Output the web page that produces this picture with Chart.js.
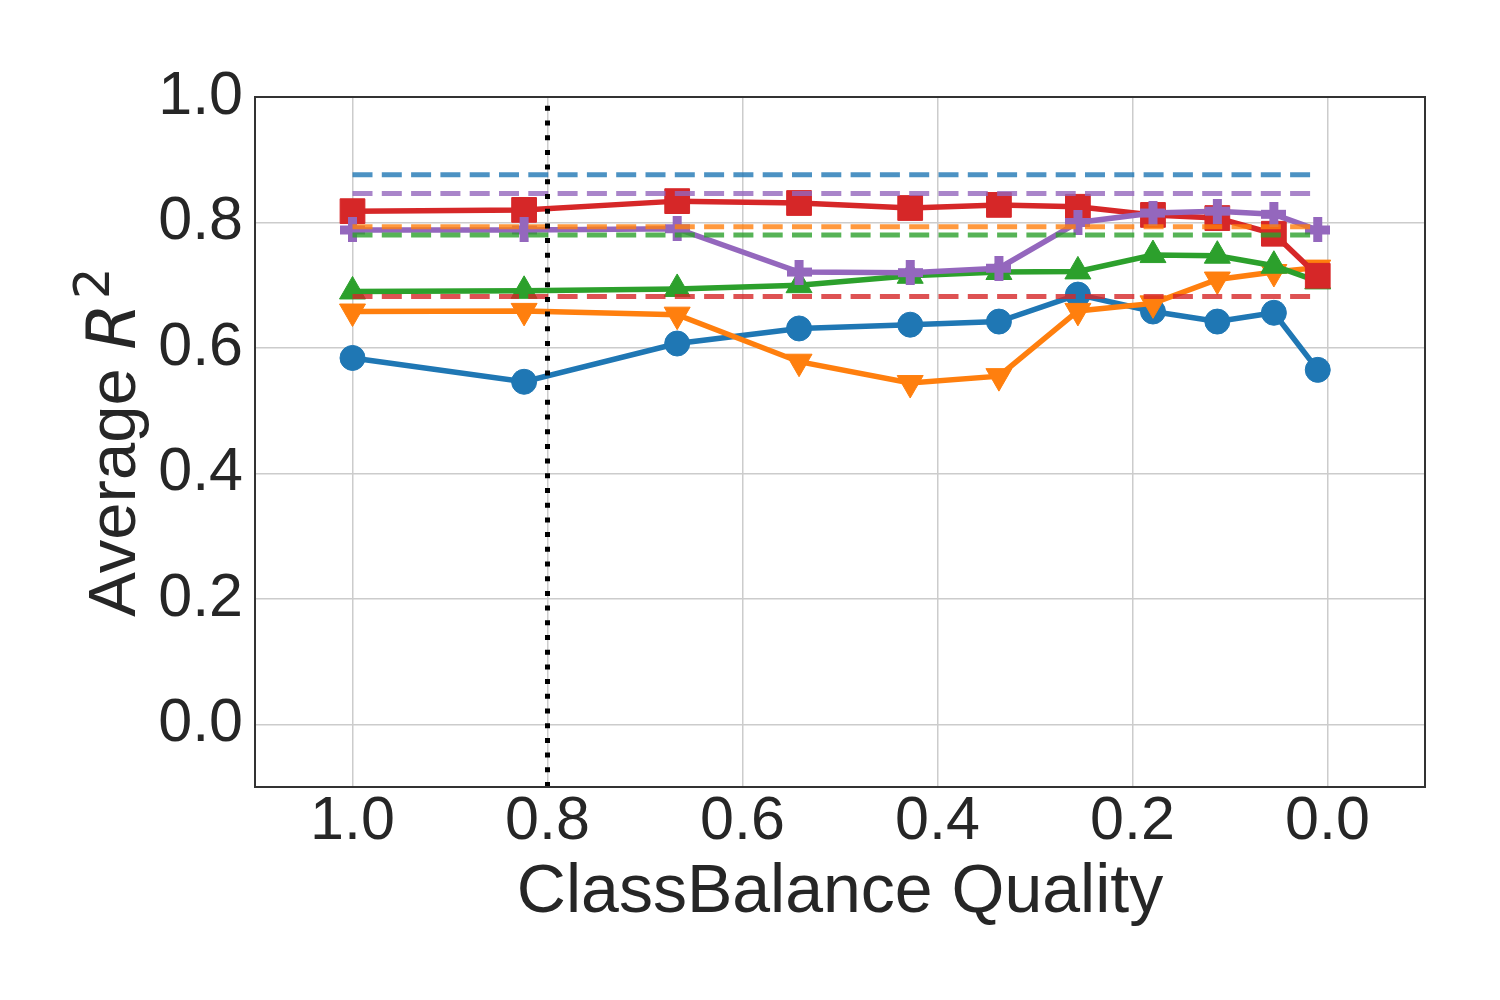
<!DOCTYPE html>
<html>
<head>
<meta charset="utf-8">
<script src="https://cdn.jsdelivr.net/npm/chart.js@4.4.1/dist/chart.umd.min.js"></script>
<style>
    body { margin: 0; background: #fff; }
</style>
</head>
<body>
<canvas id="canvas" width="1500" height="1000"></canvas>
<script>
// x = ClassBalance quality (axis runs backwards, 1.0 on the left)
var quality = [1.0, 0.824, 0.667, 0.542, 0.428, 0.337, 0.256, 0.179, 0.113, 0.055, 0.010];

// average R^2 per quality level, one array per curve
var blueR2   = [0.584, 0.546, 0.607, 0.631, 0.637, 0.642, 0.685, 0.658, 0.642, 0.656, 0.565];
var orangeR2 = [0.658, 0.659, 0.653, 0.578, 0.544, 0.555, 0.659, 0.671, 0.709, 0.721, 0.728];
var greenR2  = [0.690, 0.691, 0.694, 0.700, 0.715, 0.721, 0.722, 0.748, 0.747, 0.731, 0.706];
var redR2    = [0.818, 0.820, 0.834, 0.831, 0.823, 0.828, 0.825, 0.812, 0.807, 0.782, 0.715];
var purpleR2 = [0.788, 0.788, 0.790, 0.721, 0.720, 0.727, 0.800, 0.815, 0.818, 0.813, 0.788];

// clean-data reference levels (dashed), same colour order
var baselineR2 = [0.876, 0.793, 0.780, 0.682, 0.846];

var cutoff = 0.8;
var xTicks = [1.0, 0.8, 0.6, 0.4, 0.2, 0.0];
var yTicks = [0.0, 0.2, 0.4, 0.6, 0.8, 1.0];

var colors = ['#1f77b4', '#ff7f0e', '#2ca02c', '#d62728', '#9467bd'];
var dashColors = ['rgba(31,119,180,0.8)', 'rgba(255,127,14,0.8)', 'rgba(44,160,44,0.8)', 'rgba(214,39,40,0.8)', 'rgba(148,103,189,0.8)'];

function pts(ys) {
    return ys.map(function (y, i) { return {x: quality[i], y: y}; });
}

// filled "P" style plus marker, drawn once on a small canvas
function plusMarker(c) {
    var size = 25, arm = 9;
    var cv = document.createElement('canvas');
    cv.width = size;
    cv.height = size;
    var g = cv.getContext('2d');
    g.fillStyle = c;
    g.fillRect((size - arm) / 2, 0, arm, size);
    g.fillRect(0, (size - arm) / 2, size, arm);
    return cv;
}

function curve(ys, c, style, r, rot, order) {
    return {
        data: pts(ys),
        borderColor: c,
        backgroundColor: c,
        borderWidth: 5.5,
        pointStyle: style,
        pointRadius: r,
        pointRotation: rot,
        pointBorderWidth: 1,
        pointBorderColor: c,
        pointBackgroundColor: c,
        order: order
    };
}

var datasets = [];
// vertical cutoff line on top of everything
datasets.push({
    data: [{x: cutoff, y: -0.1}, {x: cutoff, y: 1.0}],
    borderColor: '#000',
    borderWidth: 5,
    borderDash: [5, 9.7],
    pointRadius: 0,
    order: 0
});
baselineR2.forEach(function (v, i) {
    datasets.push({
        data: [{x: quality[0], y: v}, {x: quality[quality.length - 1], y: v}],
        borderColor: dashColors[i],
        borderWidth: 5,
        borderDash: [20, 9.3],
        pointRadius: 0,
        order: 1
    });
});
datasets.push(curve(purpleR2, colors[4], plusMarker(colors[4]), 13, 0, 2));
datasets.push(curve(redR2, colors[3], 'rect', 17.5, 0, 3));
datasets.push(curve(greenR2, colors[2], 'triangle', 15, 0, 4));
datasets.push(curve(orangeR2, colors[1], 'triangle', 15, 180, 5));
datasets.push(curve(blueR2, colors[0], 'circle', 12.5, 0, 6));

var textColor = '#262626';
var labelFont = '"Liberation Sans", Arial, sans-serif';

var decor = {
    id: 'decor',
    afterDraw: function (chart) {
        var ctx = chart.ctx;
        var a = chart.chartArea;
        ctx.save();
        // frame
        ctx.strokeStyle = '#333333';
        ctx.lineWidth = 2;
        ctx.strokeRect(a.left, a.top, a.right - a.left, a.bottom - a.top);

        ctx.fillStyle = textColor;
        // x label
        ctx.font = '68px ' + labelFont;
        ctx.textAlign = 'center';
        ctx.textBaseline = 'alphabetic';
        ctx.fillText('ClassBalance Quality', (a.left + a.right) / 2, 912);

        // y label: "Average R^2" with italic R and raised 2
        var mainFont = '67px ' + labelFont;
        var rFont = 'oblique 67px "DejaVu Sans"';
        var supFont = '50px "DejaVu Sans"';
        ctx.font = mainFont;
        var w1 = ctx.measureText('Average ').width;
        ctx.font = rFont;
        var w2 = ctx.measureText('R').width;
        ctx.font = supFont;
        var w3 = ctx.measureText('2').width;
        var gap = 4;
        var total = w1 + w2 + gap + w3;
        ctx.translate(135, (a.top + a.bottom) / 2);
        ctx.rotate(-Math.PI / 2);
        ctx.textAlign = 'left';
        var x0 = -total / 2;
        ctx.font = mainFont;
        ctx.fillText('Average ', x0, 0);
        ctx.font = rFont;
        ctx.fillText('R', x0 + w1, 0);
        ctx.font = supFont;
        ctx.fillText('2', x0 + w1 + w2 + gap, -26);
        ctx.restore();
    }
};

var chart = new Chart(document.getElementById('canvas').getContext('2d'), {
    type: 'line',
    data: {datasets: datasets},
    plugins: [decor],
    options: {
        responsive: false,
        devicePixelRatio: 1,
        animation: false,
        layout: {padding: {top: 97, right: 75, left: 0, bottom: 0}},
        plugins: {legend: {display: false}, tooltip: {enabled: false}},
        elements: {line: {tension: 0}},
        scales: {
            x: {
                type: 'linear',
                reverse: true,
                min: -0.1,
                max: 1.1,
                afterBuildTicks: function (scale) {
                    scale.ticks = xTicks.map(function (v) { return {value: v}; });
                },
                afterFit: function (scale) { scale.height = 213; },
                grid: {color: '#cccccc', lineWidth: 1.5, drawTicks: false},
                border: {display: false},
                ticks: {
                    padding: -1,
                    color: textColor,
                    font: {family: labelFont, size: 61},
                    maxRotation: 0,
                    callback: function (v) { return v.toFixed(1); }
                }
            },
            y: {
                type: 'linear',
                min: -0.1,
                max: 1.0,
                afterBuildTicks: function (scale) {
                    scale.ticks = yTicks.map(function (v) { return {value: v}; });
                },
                afterFit: function (scale) { scale.width = 255; },
                grid: {color: '#cccccc', lineWidth: 1.5, drawTicks: false},
                border: {display: false},
                ticks: {
                    padding: 12,
                    color: textColor,
                    font: {family: labelFont, size: 61},
                    callback: function (v) { return v.toFixed(1); }
                }
            }
        }
    }
});
</script>
</body>
</html>
